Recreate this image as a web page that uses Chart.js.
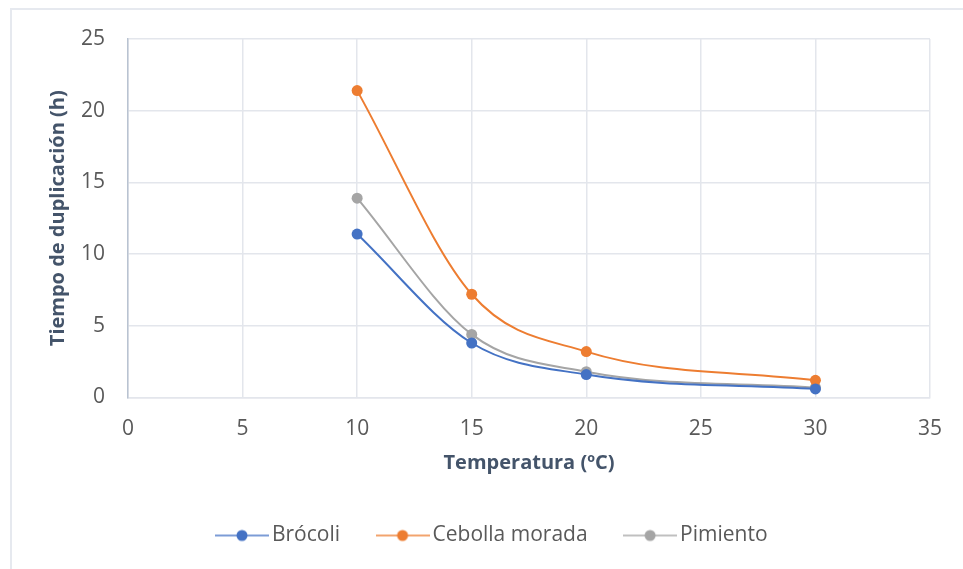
<!DOCTYPE html>
<html>
<head>
<meta charset="utf-8">
<script src="https://cdn.jsdelivr.net/npm/chart.js@4/dist/chart.umd.min.js"></script>
<style>
  html, body { margin: 0; padding: 0; background: #fff; }
  #wrap { position: absolute; left: 0; top: 0; width: 963px; height: 569px; }
  #frame { position: absolute; left: 10px; top: 8px; width: 1000px; height: 600px;
           border: 2px solid #e6e9ef; box-sizing: border-box; pointer-events: none; }
</style>
</head>
<body>
<div id="wrap">
  <canvas id="c" width="963" height="569"></canvas>
  <div id="frame"></div>
</div>
<script>
// Temperatura (ºC) y tiempo de duplicación (h) por producto
const temperaturas = [10, 15, 20, 30];
const brocoli = [11.4, 3.8, 1.6, 0.6];
const cebollaMorada = [21.4, 7.2, 3.2, 1.2];
const pimiento = [13.9, 4.4, 1.8, 0.7];
const nombres = ['Brócoli', 'Cebolla morada', 'Pimiento'];
const colores = ['#4472C4', '#ED7D31', '#A5A5A5'];

const serie = (vals) => temperaturas.map((t, i) => ({ x: t, y: vals[i] }));

// legend swatch: short line with a dot in the middle
function swatch(color) {
  const cv = document.createElement('canvas');
  cv.width = 54; cv.height = 14;
  const g = cv.getContext('2d');
  g.strokeStyle = color; g.globalAlpha = 0.7; g.lineWidth = 2;
  g.beginPath(); g.moveTo(0, 7); g.lineTo(54, 7); g.stroke();
  g.globalAlpha = 1; g.fillStyle = color;
  g.beginPath(); g.arc(27, 7, 5.5, 0, Math.PI * 2); g.fill();
  return cv;
}

const fuente = "'Open Sans', 'Noto Sans', sans-serif";
const tinta = '#595959';
const titulo = '#44546A';

const datasets = [brocoli, cebollaMorada, pimiento].map((vals, k) => ({
  label: nombres[k],
  data: serie(vals),
  borderColor: colores[k],
  backgroundColor: colores[k],
  borderWidth: 2,
  pointRadius: 5.5,
  pointHoverRadius: 5.5,
  pointBorderWidth: 0,
  tension: 0.4,
  cubicInterpolationMode: 'monotone',
  pointStyle: 'circle',
  legendSwatch: swatch(colores[k])
}));

// the legend row sits a little right of the chart's centre line
const legendOffset = {
  id: 'legendOffset',
  afterLayout(chart) {
    const lg = chart.legend;
    if (lg) { lg.left += 25; lg.right += 25; }
  }
};

new Chart(document.getElementById('c'), {
  type: 'line',
  data: { datasets },
  plugins: [legendOffset],
  options: {
    responsive: false,
    animation: false,
    layout: { padding: { left: 10, top: 39, right: 33, bottom: 13 } },
    plugins: {
      tooltip: { enabled: false },
      legend: {
        position: 'bottom',
        labels: {
          usePointStyle: true,
          pointStyleWidth: 39,
          color: tinta,
          font: { family: fuente, size: 21 },
          padding: 43,
          generateLabels(chart) {
            return chart.data.datasets.map((d, i) => ({
              text: d.label,
              pointStyle: d.legendSwatch,
              fontColor: tinta,
              strokeStyle: d.borderColor,
              fillStyle: d.backgroundColor,
              lineWidth: 0,
              datasetIndex: i,
              hidden: false
            }));
          }
        }
      }
    },
    scales: {
      x: {
        type: 'linear',
        min: 0, max: 35,
        ticks: { stepSize: 5, color: tinta, font: { family: fuente, size: 21 }, padding: 19 },
        grid: { color: '#e3e6ec', lineWidth: 1.5, drawTicks: false },
        border: { color: '#e3e6ec', width: 1.5 },
        title: { display: true, text: 'Temperatura (ºC)', color: titulo,
                 font: { family: fuente, size: 20, weight: 'bold' }, padding: { top: 4, bottom: 6.5 } },
        afterFit(s) { s.height = 84.5; }
      },
      y: {
        min: 0, max: 25,
        ticks: { stepSize: 5, color: tinta, font: { family: fuente, size: 21 }, padding: 23 },
        grid: { color: '#e3e6ec', lineWidth: 1.5, drawTicks: false },
        border: { color: '#b9c3d1', width: 1.5 },
        title: { display: true, text: 'Tiempo de duplicación (h)', color: titulo,
                 font: { family: fuente, size: 20, weight: 'bold' }, padding: { top: 36, bottom: 0 } },
        afterFit(s) { s.width = 118; }
      }
    }
  }
});
</script>
</body>
</html>
